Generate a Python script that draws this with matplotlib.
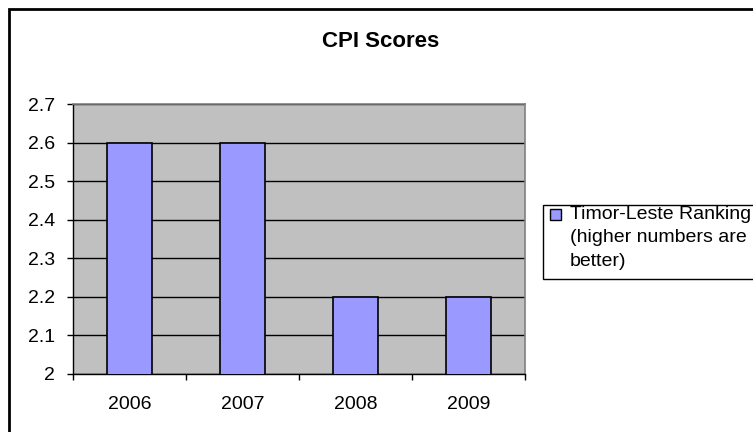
import matplotlib
matplotlib.use('Agg')
from matplotlib import pyplot as plt
from matplotlib.patches import Rectangle

# CPI scores per year
years = ['2006', '2007', '2008', '2009']
scores = [2.6, 2.6, 2.2, 2.2]
ytick_values = [2.0, 2.1, 2.2, 2.3, 2.4, 2.5, 2.6, 2.7]
ytick_labels = ['2', '2.1', '2.2', '2.3', '2.4', '2.5', '2.6', '2.7']
series_label = 'Timor-Leste Ranking\n(higher numbers are\nbetter)'
title = 'CPI Scores'

bar_color = '#9999FF'
W, H = 753, 432

plt.rcParams['font.family'] = ['Liberation Sans', 'DejaVu Sans']

fig = plt.figure(figsize=(W / 100, H / 100), dpi=100)
fig.patch.set_facecolor('white')

# outer chart frame (runs off the right and bottom edges)
fig.patches.append(Rectangle((9 / W, -0.1), 1.2, 1.1 - 9 / H, transform=fig.transFigure,
                             fill=False, edgecolor='black', linewidth=2))

ax = fig.add_axes([73 / W, 58 / H, 452 / W, 270 / H])
ax.set_facecolor('#C0C0C0')
ax.set_axisbelow(True)

x = list(range(len(years)))
ax.bar(x, scores, width=0.4, color=bar_color, edgecolor='black', linewidth=1.2, zorder=3)

ax.set_xlim(-0.5, len(years) - 0.5)
ax.set_ylim(ytick_values[0], ytick_values[-1])

ax.set_yticks(ytick_values)
ax.set_yticklabels(ytick_labels)
ax.yaxis.grid(True, color='black', linewidth=1)
ax.tick_params(axis='y', direction='out', length=4.3, width=1, pad=8.6, labelsize=14)

# tick marks between categories, labels under each category
ax.set_xticks([i - 0.5 for i in range(len(years) + 1)])
ax.set_xticklabels([])
ax.set_xticks(x, minor=True)
ax.set_xticklabels(years, minor=True)
ax.tick_params(axis='x', which='major', direction='out', length=4.3, width=1)
ax.tick_params(axis='x', which='minor', length=0, pad=16, labelsize=14)

for side in ['top', 'right']:
    ax.spines[side].set_color('#808080')
    ax.spines[side].set_linewidth(1.2)
for side in ['left', 'bottom']:
    ax.spines[side].set_color('black')
    ax.spines[side].set_linewidth(1)

fig.text(381 / W, 1 - 47 / H, title, ha='center', va='baseline',
         fontsize=16, fontweight='bold')

# legend box
fig.patches.append(Rectangle((543 / W, 1 - 279 / H), 0.5, 74 / H, transform=fig.transFigure,
                             facecolor='white', edgecolor='black', linewidth=1))
fig.patches.append(Rectangle((550 / W, 1 - 220 / H), 11 / W, 11 / H, transform=fig.transFigure,
                             facecolor=bar_color, edgecolor='black', linewidth=1))
fig.text(570 / W, 1 - 206 / H, series_label, ha='left', va='top',
         fontsize=14, linespacing=1.5)

fig.savefig('out.png', dpi=100)
